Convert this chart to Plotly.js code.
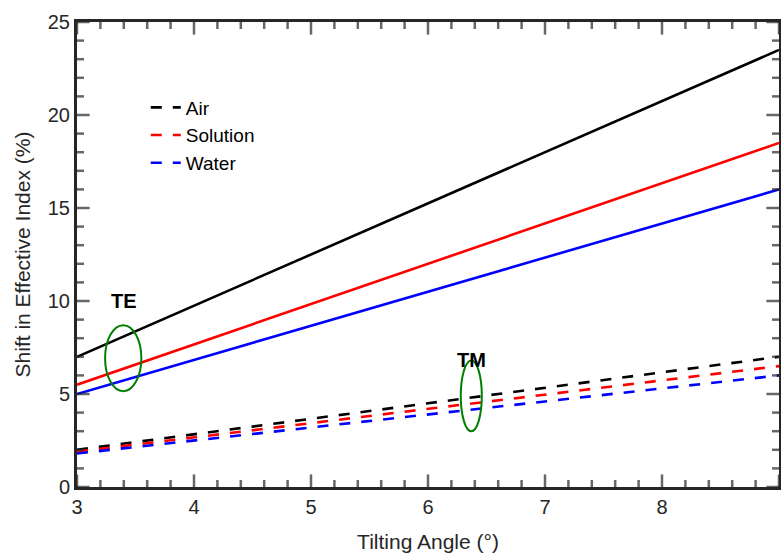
<!DOCTYPE html>
<html><head><meta charset="utf-8">
<script src="https://cdn.plot.ly/plotly-3.0.1.min.js"></script>
<style>html,body{margin:0;padding:0;background:#fff;}#chart{width:781px;height:559px;}</style>
</head><body><div id="chart"></div>
<script>
// Data
const angles = [3, 9];
const teAir = [7.0, 23.5];
const teSolution = [5.5, 18.5];
const teWater = [5.0, 16.0];
const tmAir = [2.0, 7.0];
const tmSolution = [1.9, 6.5];
const tmWater = [1.8, 6.0];
const seriesNames = ['Air', 'Solution', 'Water'];
const seriesColors = ['#000000', '#ff0000', '#0000ff'];
const xTicks = [3, 4, 5, 6, 7, 8, 9];
const yTicks = [0, 5, 10, 15, 20, 25];

const FONT = 'Liberation Sans, Arial, Helvetica, sans-serif';
const AX = '#262626';
const X_RANGE = [3, 9], Y_RANGE = [0, 25];
const teSets = [teAir, teSolution, teWater];
const tmSets = [tmAir, tmSolution, tmWater];
const traces = [];
teSets.forEach((ys, i) => traces.push({
  x: angles, y: ys, mode: 'lines', name: seriesNames[i] + ' TE', showlegend: false,
  line: {color: seriesColors[i], width: 2.6}, hoverinfo: 'skip'
}));
tmSets.forEach((ys, i) => traces.push({
  x: angles, y: ys, mode: 'lines', name: seriesNames[i], showlegend: true,
  line: {color: seriesColors[i], width: 2.6, dash: '11px,11px'}, hoverinfo: 'skip'
}));

// tick positions (major from the tick arrays, 4 minor ticks between majors)
function withMinor(major) {
  const pos = [], size = [];
  for (let i = 0; i < major.length; i++) {
    pos.push(major[i]); size.push(18);
    if (i < major.length - 1) {
      for (let k = 1; k < 5; k++) { pos.push(major[i] + k * (major[i + 1] - major[i]) / 5); size.push(10); }
    }
  }
  return {pos, size};
}
const xt = withMinor(xTicks), yt = withMinor(yTicks);
// tick marks drawn as line markers centred on the frame; the plot clip keeps only the inner half
[Y_RANGE[0], Y_RANGE[1]].forEach(edge => traces.push({
  x: xt.pos, y: xt.pos.map(() => edge), mode: 'markers', showlegend: false, hoverinfo: 'skip',
  cliponaxis: true,
  marker: {symbol: 'line-ns-open', size: xt.size, color: AX, line: {color: AX, width: 2.5}}
}));
[X_RANGE[0], X_RANGE[1]].forEach(edge => traces.push({
  x: yt.pos.map(() => edge), y: yt.pos, mode: 'markers', showlegend: false, hoverinfo: 'skip',
  cliponaxis: true,
  marker: {symbol: 'line-ew-open', size: yt.size, color: AX, line: {color: AX, width: 2.5}}
}));

const layout = {
  width: 781, height: 559,
  margin: {l: 77, r: 2, t: 22, b: 72},
  paper_bgcolor: '#ffffff', plot_bgcolor: '#ffffff',
  font: {family: FONT, size: 20, color: AX},
  showlegend: true,
  legend: {x: 0.098, y: 0.857, xanchor: 'left', yanchor: 'top', bgcolor: 'rgba(0,0,0,0)',
    font: {family: FONT, size: 19, color: '#000'}, tracegroupgap: 0},
  xaxis: {
    range: X_RANGE, tickmode: 'array', tickvals: xTicks, ticktext: xTicks.map(String),
    showline: true, linecolor: AX, linewidth: 3, mirror: true, ticks: '',
    showgrid: false, zeroline: false,
    tickfont: {family: FONT, size: 20, color: AX},
    title: {text: 'Tilting Angle (°)', standoff: 18, font: {family: FONT, size: 21, color: AX}}
  },
  yaxis: {
    range: Y_RANGE, tickmode: 'array', tickvals: yTicks, ticktext: yTicks.map(String),
    showline: true, linecolor: AX, linewidth: 3, mirror: true, ticks: '',
    showgrid: false, zeroline: false,
    tickfont: {family: FONT, size: 20, color: AX},
    title: {text: 'Shift in Effective Index (%)', standoff: 12, font: {family: FONT, size: 21, color: AX}}
  },
  shapes: [
    {type: 'circle', xref: 'x', yref: 'y', x0: 3.24, x1: 3.55, y0: 5.15, y1: 8.7,
      line: {color: '#008000', width: 2}},
    {type: 'circle', xref: 'x', yref: 'y', x0: 6.28, x1: 6.46, y0: 3.0, y1: 6.8,
      line: {color: '#008000', width: 2}}
  ],
  annotations: [
    {x: 3.4, y: 10, xref: 'x', yref: 'y', text: '<b>TE</b>', showarrow: false,
      font: {family: FONT, size: 20, color: '#000'}},
    {x: 6.37, y: 6.85, xref: 'x', yref: 'y', text: '<b>TM</b>', showarrow: false,
      font: {family: FONT, size: 20, color: '#000'}}
  ]
};
Plotly.newPlot('chart', traces, layout, {displayModeBar: false});
</script></body></html>
